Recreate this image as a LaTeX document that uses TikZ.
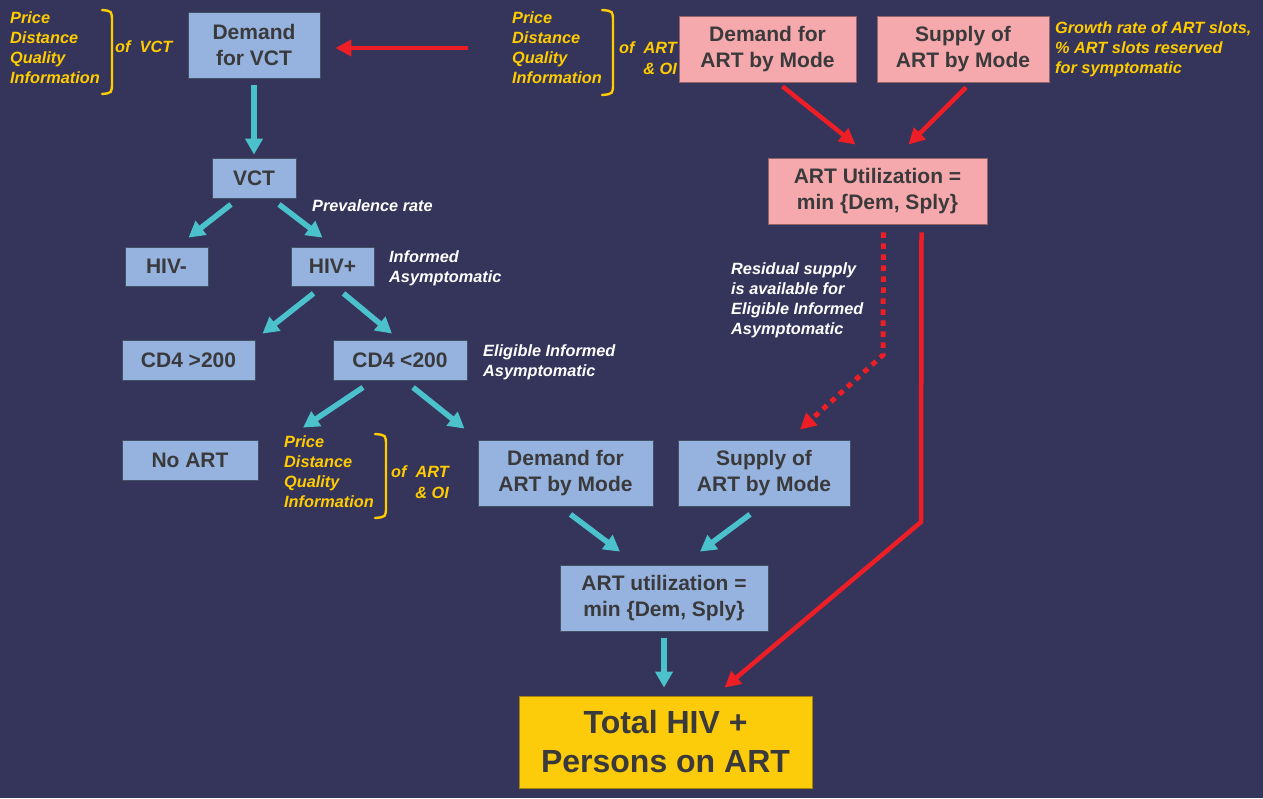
\documentclass[tikz,border=0pt]{standalone}
\usepackage{fontspec}
\setmainfont{Liberation Sans}
\usetikzlibrary{arrows.meta}
\definecolor{bg}{RGB}{53,52,90}
\definecolor{boxblue}{RGB}{149,179,222}
\definecolor{boxpink}{RGB}{245,169,172}
\definecolor{boxyel}{RGB}{252,204,10}
\definecolor{txtdark}{RGB}{58,58,60}
\definecolor{labyel}{RGB}{255,204,0}
\definecolor{cyanarr}{RGB}{75,193,204}
\definecolor{redarr}{RGB}{237,30,38}
\tikzset{
  boxbase/.style={rectangle, inner sep=0pt, align=center, text=txtdark,
    font=\bfseries\fontsize{21}{26}\selectfont, line width=0.8pt},
  bluebox/.style={boxbase, fill=boxblue, draw=black!55!boxblue},
  pinkbox/.style={boxbase, fill=boxpink, draw=black!40!boxpink},
  yelbox/.style={boxbase, fill=boxyel, draw=black!35!boxyel,
    font=\bfseries\fontsize{32}{39}\selectfont},
  yellab/.style={inner sep=0pt, align=left, text=labyel,
    font=\bfseries\itshape\fontsize{16.3}{20}\selectfont},
  whitelab/.style={inner sep=0pt, align=left, text=white,
    font=\bfseries\itshape\fontsize{16.3}{20}\selectfont},
  ofstyle/.style={yellab, anchor=east, align=right,
    font=\bfseries\itshape\fontsize{16.3}{21}\selectfont},
  bracestyle/.style={draw=labyel, line width=2.4pt, line cap=round},
  cyarr/.style={draw=cyanarr, line width=5.5pt, -{Triangle[length=16pt,width=17pt]}},
  rdarr/.style={draw=redarr, line width=4.5pt, -{Triangle[length=16pt,width=16pt]}},
  rddot/.style={rdarr, line width=5pt, dash pattern=on 5.5pt off 5.5pt},
}
\begin{document}
\begin{tikzpicture}[x=1pt,y=-1pt]
\fill[bg] (0,0) rectangle (1263,798);
\useasboundingbox (0,0) rectangle (1263,798);

% ---- boxes ----
\node[bluebox, minimum width=132pt, minimum height=66pt] (dvct) at (254,45) {Demand\\for VCT};
\node[bluebox, minimum width=84pt, minimum height=40pt] (vct) at (254,178) {VCT};
\node[bluebox, minimum width=83pt, minimum height=39pt] (hivm) at (166.5,266.5) {HIV-};
\node[bluebox, minimum width=83pt, minimum height=39pt] (hivp) at (332.5,266.5) {HIV+};
\node[bluebox, minimum width=133pt, minimum height=40pt] (cdg) at (188.5,360) {CD4 >200};
\node[bluebox, minimum width=134pt, minimum height=40pt] (cdl) at (400,360) {CD4 <200};
\node[bluebox, minimum width=136pt, minimum height=40pt] (noart) at (190,460) {No ART};
\node[bluebox, minimum width=175pt, minimum height=66pt] (dart2) at (565.5,473) {Demand for\\ART by Mode};
\node[bluebox, minimum width=172pt, minimum height=66pt] (sart2) at (764,473) {Supply of\\ART by Mode};
\node[bluebox, minimum width=208pt, minimum height=66pt] (util2) at (664,598) {ART utilization =\\min \{Dem, Sply\}};
\node[yelbox, minimum width=293pt, minimum height=92pt] (total) at (665.5,742) {Total HIV +\\Persons on ART};
\node[pinkbox, minimum width=177pt, minimum height=66pt] (dart1) at (767.5,49) {Demand for\\ART by Mode};
\node[pinkbox, minimum width=172pt, minimum height=66pt] (sart1) at (963,49) {Supply of\\ART by Mode};
\node[pinkbox, minimum width=219pt, minimum height=66pt] (util1) at (877.5,191) {ART Utilization =\\min \{Dem, Sply\}};

% ---- yellow labels and braces ----
\node[yellab, anchor=west] (pl1) at (10,48) {Price\\Distance\\Quality\\Information};
\draw[bracestyle] (102,10) .. controls (112,11) .. (112,22) -- (112,82) .. controls (112,93) .. (102,94);
\node[yellab, anchor=west] (of1) at (115,47) {of\ \ VCT};

\node[yellab, anchor=west] (pl2) at (512,48) {Price\\Distance\\Quality\\Information};
\draw[bracestyle] (602,10) .. controls (613,11) .. (613,22) -- (613,83) .. controls (613,94) .. (602,95);
\node[ofstyle] (of2) at (677,58) {of\ \ ART\\\& OI};

\node[yellab, anchor=west] (gr) at (1055,49) {Growth rate of ART slots,\\\% ART slots reserved\\for symptomatic};

\node[yellab, anchor=west] (pl3) at (284,472) {Price\\Distance\\Quality\\Information};
\draw[bracestyle] (375,434) .. controls (386,435) .. (386,446) -- (386,506) .. controls (386,517) .. (375,518);
\node[ofstyle] (of3) at (449,482) {of\ \ ART\\\& OI};

% ---- white labels ----
\node[whitelab, anchor=west] (prev) at (312,206) {Prevalence rate};
\node[whitelab, anchor=west] (inf) at (389,268) {Informed\\Asymptomatic};
\node[whitelab, anchor=west] (elig) at (483,362) {Eligible Informed\\Asymptomatic};
\node[whitelab, anchor=west] (resid) at (731,300) {Residual supply\\is available for\\Eligible Informed\\Asymptomatic};

% ---- cyan arrows ----
\draw[cyarr] ([yshift=-7pt]dvct.south) -- ([yshift=3pt]vct.north);
\draw[cyarr] ([xshift=-23pt,yshift=-6pt]vct.south) -- ([xshift=22pt,yshift=9pt]hivm.north);
\draw[cyarr] ([xshift=25pt,yshift=-6pt]vct.south) -- ([xshift=-10pt,yshift=9pt]hivp.north);
\draw[cyarr] ([xshift=-19pt,yshift=-7pt]hivp.south) -- ([xshift=74pt,yshift=6pt]cdg.north);
\draw[cyarr] ([xshift=11pt,yshift=-7pt]hivp.south) -- ([xshift=-8pt,yshift=6pt]cdl.north);
\draw[cyarr] ([xshift=-37pt,yshift=-7pt]cdl.south) -- ([xshift=113pt,yshift=12pt]noart.north);
\draw[cyarr] ([xshift=13pt,yshift=-7pt]cdl.south) -- ([xshift=-101pt,yshift=11pt]dart2.north);
\draw[cyarr] ([xshift=5pt,yshift=-8pt]dart2.south) -- ([xshift=-44pt,yshift=13pt]util2.north);
\draw[cyarr] ([xshift=-14pt,yshift=-8pt]sart2.south) -- ([xshift=36pt,yshift=13pt]util2.north);
\draw[cyarr] ([yshift=-7pt]util2.south) -- ([xshift=-1.5pt,yshift=8pt]total.north);

% ---- red arrows ----
\coordinate (redstart) at (468,48);
\draw[rdarr] (redstart) -- ([xshift=15pt,yshift=-3pt]dvct.east);
\draw[rdarr] ([xshift=15pt,yshift=-4pt]dart1.south) -- ([xshift=-22pt,yshift=13pt]util1.north);
\draw[rdarr] ([xshift=3pt,yshift=-5pt]sart1.south) -- ([xshift=31pt,yshift=13pt]util1.north);
\draw[rddot] ([xshift=6pt,yshift=-8pt]util1.south) -- (883,355) -- ([xshift=36pt,yshift=10pt]sart2.north);
\draw[rdarr] ([xshift=44pt,yshift=-8pt]util1.south) -- (921,522) -- ([xshift=59pt,yshift=8pt]total.north);
\end{tikzpicture}
\end{document}
